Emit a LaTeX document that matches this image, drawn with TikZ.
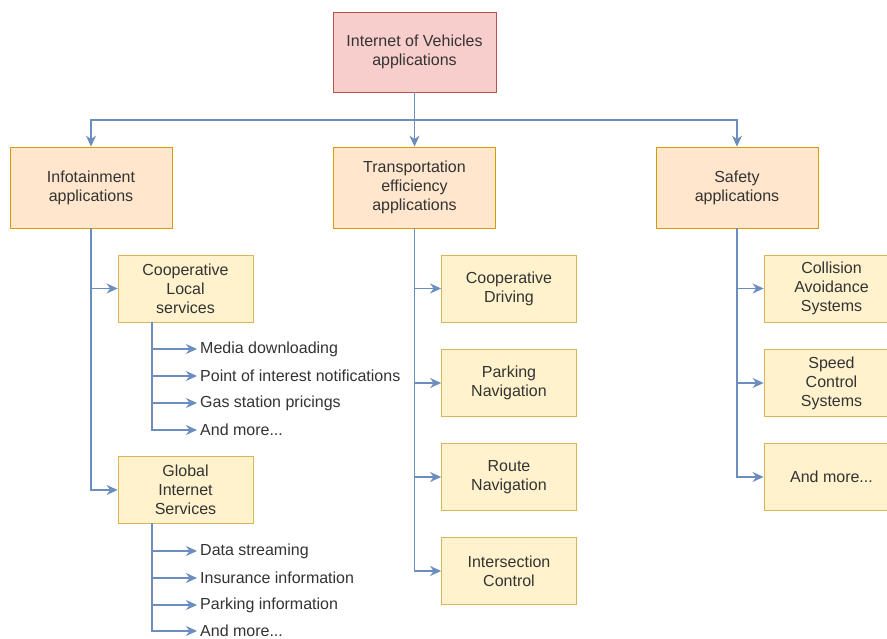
\documentclass[tikz,border=0pt]{standalone}
\usepackage{fontspec}
\setmainfont{Liberation Sans}
\usetikzlibrary{arrows.meta}
\definecolor{rootfill}{HTML}{F8CECC}
\definecolor{rootline}{HTML}{B85450}
\definecolor{catfill}{HTML}{FFE6CC}
\definecolor{catline}{HTML}{D79B00}
\definecolor{subfill}{HTML}{FFF2CC}
\definecolor{subline}{HTML}{D6B656}
\definecolor{linkblue}{HTML}{6C8EBF}
\definecolor{textgray}{HTML}{333333}

\begin{document}
\begin{tikzpicture}[x=1pt, y=-1pt,
  every node/.style={font=\fontsize{16}{19}\selectfont, text=textgray},
  rootbox/.style={draw=rootline, fill=rootfill, line width=0.8pt, minimum width=163pt, minimum height=80pt, align=center},
  catbox/.style={draw=catline, fill=catfill, line width=0.8pt, minimum width=162pt, minimum height=81pt, align=center},
  subbox/.style={draw=subline, fill=subfill, line width=0.8pt, minimum width=135pt, minimum height=67pt, align=center},
  item/.style={anchor=west, inner sep=3pt},
  link/.style={draw=linkblue, line width=1.2pt, -{Stealth[length=11pt, width=10pt, inset=3.5pt]}}]
  \useasboundingbox (0,0) rectangle (887,639);
  \fill[white] (0,0) rectangle (887,639);
  \node[rootbox] (iov) at (414.5,52) {Internet of Vehicles\\applications};
  \node[catbox] (info) at (91,187.5) {Infotainment\\applications};
  \node[catbox] (trans) at (414.5,187.5) {Transportation\\efficiency\\applications};
  \node[catbox] (safe) at (737,187.5) {Safety\\applications};
  \coordinate (bus) at (414.5,120);
  % Infotainment branch
  \node[subbox] (cls) at (185.5,288.5) {Cooperative\\Local\\services};
  \node[subbox] (gis) at (185.5,490) {Global\\Internet\\Services};
  \coordinate (clsfoot) at (152,322);
  \coordinate (gisfoot) at (152,523);
  \node[item] (media) at (197,349) {Media downloading};
  \node[item] (poi) at (197,376) {Point of interest notifications};
  \node[item] (gas) at (197,403) {Gas station pricings};
  \node[item] (clsmore) at (197,430) {And more...};
  \node[item] (stream) at (197,551) {Data streaming};
  \node[item] (insur) at (197,578) {Insurance information};
  \node[item] (parkinfo) at (197,605) {Parking information};
  \node[item] (gismore) at (197,631) {And more...};
  % Transportation branch
  \node[subbox] (coopdrv) at (509,288.5) {Cooperative\\Driving};
  \node[subbox] (parknav) at (509,383) {Parking\\Navigation};
  \node[subbox] (routenav) at (509,477) {Route\\Navigation};
  \node[subbox] (inter) at (509,571) {Intersection\\Control};
  % Safety branch
  \node[subbox] (collision) at (831.5,288.5) {Collision\\Avoidance\\Systems};
  \node[subbox] (speed) at (831.5,383) {Speed\\Control\\Systems};
  \node[subbox] (safemore) at (831.5,477) {And more...};
  % Draw the tree links
  \draw[link] (iov.south) -- (trans.north);
  \draw[link] (iov.south) -- (bus) -| (info.north);
  \draw[link] (iov.south) -- (bus) -| (safe.north);
  \draw[link] (info.south) |- (cls.west);
  \draw[link] (info.south) |- (gis.west);
  \draw[link] (clsfoot) |- (media.west);
  \draw[link] (clsfoot) |- (poi.west);
  \draw[link] (clsfoot) |- (gas.west);
  \draw[link] (clsfoot) |- (clsmore.west);
  \draw[link] (gisfoot) |- (stream.west);
  \draw[link] (gisfoot) |- (insur.west);
  \draw[link] (gisfoot) |- (parkinfo.west);
  \draw[link] (gisfoot) |- (gismore.west);
  \draw[link] (trans.south) |- (coopdrv.west);
  \draw[link] (trans.south) |- (parknav.west);
  \draw[link] (trans.south) |- (routenav.west);
  \draw[link] (trans.south) |- (inter.west);
  \draw[link] (safe.south) |- (collision.west);
  \draw[link] (safe.south) |- (speed.west);
  \draw[link] (safe.south) |- (safemore.west);
\end{tikzpicture}
\end{document}
